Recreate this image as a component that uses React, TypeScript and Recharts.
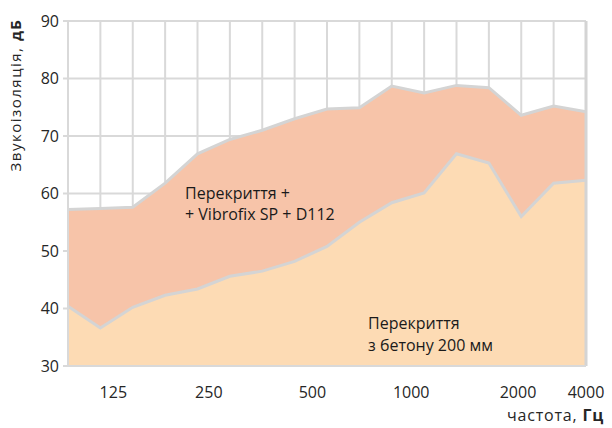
import { ComposedChart, Area, XAxis, YAxis, CartesianGrid, ReferenceLine } from 'recharts';

// third-octave bands, 100 Hz ... 4000 Hz
const freqs = ['100', '125', '160', '200', '250', '315', '400', '500', '630', '800', '1000', '1250', '1600', '2000', '2500', '3150', '4000'];
const withVibrofix = [57.2, 57.4, 57.6, 61.8, 66.9, 69.4, 71.0, 73.0, 74.7, 74.9, 78.7, 77.5, 78.8, 78.4, 73.6, 75.2, 74.2];
const concreteOnly = [40.4, 36.6, 40.2, 42.3, 43.4, 45.6, 46.5, 48.2, 50.8, 55.0, 58.4, 60.1, 66.9, 65.3, 56.0, 61.8, 62.3];

const yTicks = [30, 40, 50, 60, 70, 80, 90];
const xLabels = ['125', '250', '500', '1000', '2000', '4000'];
const xLabelPos = [1.4, 4.35, 7.55, 10.6, 13.9, 16];

const data = freqs.map((f, i) => ({ i, freq: f, upper: withVibrofix[i], lower: concreteOnly[i] }))
const bandTicks = freqs.map((_, i) => i)

const grey = '#d9d9d9'
const font = '"Open Sans", sans-serif'

// vertical grid at every band, spread over the plot area the chart reports
const bandGrid = (props) => {
  const off = props && props.offset
  if (!off) return []
  return bandTicks.map((t) => off.left + (off.width * t) / (bandTicks.length - 1))
}

const App = () => {
  return (
    <div style={{ position: 'fixed', left: 0, top: 0, width: 612, height: 428, background: '#fff', fontFamily: font }}>
      <ComposedChart width={612} height={428} data={data} margin={{ top: 21, right: 26, bottom: 0, left: 0 }}>
        <CartesianGrid
          xAxisId={0}
          stroke={grey}
          strokeWidth={2}
          vertical={true}
          horizontal={true}
          verticalCoordinatesGenerator={bandGrid}
        />
        <XAxis
          xAxisId={0}
          dataKey="i"
          type="number"
          domain={[0, 16]}
          ticks={bandTicks}
          interval={0}
          height={8}
          tick={false}
          tickSize={6}
          axisLine={{ stroke: grey, strokeWidth: 2 }}
          tickLine={{ stroke: grey, strokeWidth: 2 }}
        />
        <XAxis
          xAxisId="lbl"
          dataKey="i"
          type="number"
          domain={[0, 16]}
          ticks={xLabelPos}
          interval={0}
          tickFormatter={(v) => xLabels[xLabelPos.indexOf(v)]}
          height={54}
          tickSize={0}
          tickMargin={13}
          axisLine={false}
          tickLine={false}
          tick={{ fontSize: 16, fill: '#262626', fontFamily: font }}
        />
        <YAxis
          type="number"
          domain={[30, 90]}
          ticks={yTicks}
          width={68}
          tickSize={5}
          tickMargin={4}
          axisLine={{ stroke: grey, strokeWidth: 2 }}
          tickLine={{ stroke: grey, strokeWidth: 2 }}
          tick={{ fontSize: 16, fill: '#262626', fontFamily: font }}
        />
        <Area
          xAxisId={0}
          type="linear"
          dataKey="upper"
          stroke="#d4d4d4"
          strokeWidth={3}
          fill="#f7c4a9"
          fillOpacity={1}
          dot={false}
          activeDot={false}
          isAnimationActive={false}
        />
        <Area
          xAxisId={0}
          type="linear"
          dataKey="lower"
          stroke="#d4d4d4"
          strokeWidth={3}
          fill="#fddbb4"
          fillOpacity={1}
          dot={false}
          activeDot={false}
          isAnimationActive={false}
        />
        <ReferenceLine xAxisId={0} x={16} stroke="#d4d4d4" strokeWidth={3} />
      </ComposedChart>
      <svg width={612} height={428} style={{ position: 'absolute', left: 0, top: 0, pointerEvents: 'none' }}>
        <g fontFamily={font} fill="#1a1a1a" fontSize={16}>
          <text x={185} y={199}>Перекриття +</text>
          <text x={185} y={220}>+ Vibrofix SP + D112</text>
          <text x={368} y={329}>Перекриття</text>
          <text x={368} y={351}>з бетону 200 мм</text>
        </g>
        <text transform="translate(21,95) rotate(-90)" textAnchor="middle" fontFamily={font} fontSize={15} letterSpacing={1.5} fill="#262626">
          Звукоізоляція, <tspan fontWeight="bold">дБ</tspan>
        </text>
        <text x={604} y={421} textAnchor="end" fontFamily={font} fontSize={16} letterSpacing={0.8} fill="#262626">
          частота, <tspan fontWeight="bold">Гц</tspan>
        </text>
      </svg>
    </div>
  )
}

export default App
